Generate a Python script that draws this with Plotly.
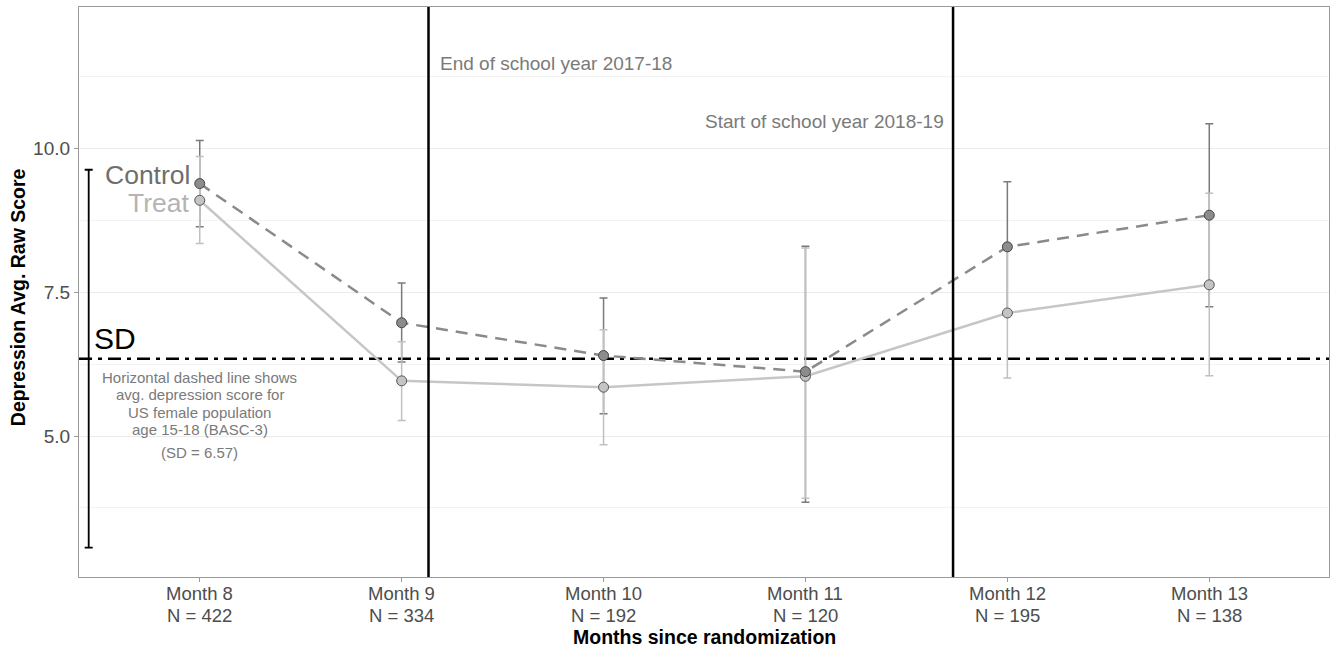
import plotly.graph_objects as go

# Survey waves and sample sizes
months = ["Month 8", "Month 9", "Month 10", "Month 11", "Month 12", "Month 13"]
n_sizes = [422, 334, 192, 120, 195, 138]
x_pos = [1, 2, 3, 4, 5, 6]

# Group means with lower / upper interval bounds
control_mean = [9.39, 6.97, 6.40, 6.12, 8.29, 8.84]
control_low = [8.64, 6.29, 5.39, 3.85, 7.16, 7.25]
control_high = [10.14, 7.66, 7.40, 8.30, 9.42, 10.43]

treat_mean = [9.10, 5.96, 5.85, 6.04, 7.14, 7.63]
treat_low = [8.35, 5.27, 4.85, 3.92, 6.01, 6.05]
treat_high = [9.86, 6.64, 6.85, 8.27, 8.27, 9.22]

# Reference norm and its standard deviation
norm_mean = 6.345
norm_sd = 6.57
sd_bar_x = 0.45
norm_note = ["Horizontal dashed line shows", "avg. depression score for",
             "US female population", "age 15-18 (BASC-3)"]
norm_note_y = [6.02, 5.72, 5.41, 5.11]

# School-year boundaries on the month axis
school_end_x = 2.133
school_start_x = 4.731

FONT = "Liberation Sans, Arial, Helvetica, sans-serif"
CONTROL_LINE = "#8a8a8a"
CONTROL_FILL = "#8c8c8c"
TREAT_LINE = "#c6c6c6"
TREAT_FILL = "#c4c4c4"
NOTE_GREY = "#7a7a7a"
TICK_GREY = "#4d4d4d"

fig = go.Figure()


def err_plus(mean, high):
    return [h - m for m, h in zip(mean, high)]


def err_minus(mean, low):
    return [m - l for m, l in zip(mean, low)]


def error_layer(mean, low, high, color):
    return go.Scatter(
        x=x_pos, y=mean, mode="markers",
        marker=dict(size=1, color="rgba(0,0,0,0)"),
        error_y=dict(type="data", symmetric=False,
                     array=err_plus(mean, high), arrayminus=err_minus(mean, low),
                     color=color, thickness=1.5, width=4),
        showlegend=False, hoverinfo="skip",
    )


# Interval bars first (control underneath treatment), then lines and points
fig.add_trace(error_layer(control_mean, control_low, control_high, "#7a7a7a"))
fig.add_trace(error_layer(treat_mean, treat_low, treat_high, "#c0c0c0"))

fig.add_trace(go.Scatter(
    x=x_pos, y=treat_mean, mode="lines+markers", name="Treat",
    line=dict(color=TREAT_LINE, width=2.5),
    marker=dict(size=10, color=TREAT_FILL, line=dict(color="#555555", width=1)),
))
fig.add_trace(go.Scatter(
    x=x_pos, y=control_mean, mode="lines+markers", name="Control",
    line=dict(color=CONTROL_LINE, width=2.5, dash="12px,8px"),
    marker=dict(size=10, color=CONTROL_FILL, line=dict(color="#444444", width=1)),
))

# SD bar centred on the population mean
fig.add_trace(go.Scatter(
    x=[sd_bar_x], y=[norm_mean], mode="markers",
    marker=dict(size=1, color="rgba(0,0,0,0)"),
    error_y=dict(type="constant", value=norm_sd / 2, color="black",
                 thickness=1.8, width=4),
    showlegend=False, hoverinfo="skip",
))

# Population mean (dot-dash) and school-year boundaries
fig.add_hline(y=norm_mean, line=dict(color="black", width=2.5,
                                     dash="13px,6px,4px,6px"), layer="below")
for xv in (school_end_x, school_start_x):
    fig.add_vline(x=xv, line=dict(color="black", width=2.5), layer="above")

# Direct group labels
fig.add_annotation(x=0.96, y=9.54, text="Control", showarrow=False,
                   xanchor="right", yanchor="middle",
                   font=dict(family=FONT, size=26.5, color="#6e6e6e"))
fig.add_annotation(x=0.96, y=9.045, text="Treat", showarrow=False,
                   xanchor="right", yanchor="middle",
                   font=dict(family=FONT, size=26.5, color="#b4b4b4"))

fig.add_annotation(x=0.468, y=6.70, text="SD", showarrow=False,
                   xanchor="left", yanchor="middle",
                   font=dict(family=FONT, size=30, color="black"))
for line_text, yv in zip(norm_note, norm_note_y):
    fig.add_annotation(x=1.0, y=yv, text=line_text, showarrow=False,
                       xanchor="center", yanchor="middle",
                       font=dict(family=FONT, size=15, color=NOTE_GREY))
fig.add_annotation(x=1.0, y=4.72, text=f"(SD = {norm_sd:.2f})", showarrow=False,
                   xanchor="center", yanchor="middle",
                   font=dict(family=FONT, size=15, color=NOTE_GREY))

fig.add_annotation(x=2.179, y=11.48, text="End of school year 2017-18",
                   showarrow=False, xanchor="left", yanchor="middle",
                   font=dict(family=FONT, size=19, color=NOTE_GREY))
fig.add_annotation(x=4.695, y=10.47, text="Start of school year 2018-19",
                   showarrow=False, xanchor="right", yanchor="middle",
                   font=dict(family=FONT, size=19, color=NOTE_GREY))

# Two-line month labels under each tick
for xv, m, n in zip(x_pos, months, n_sizes):
    fig.add_annotation(x=xv, xref="x", yref="paper", y=-0.0281, text=m,
                       showarrow=False, xanchor="center", yanchor="middle",
                       font=dict(family=FONT, size=18.5, color=TICK_GREY))
    fig.add_annotation(x=xv, xref="x", yref="paper", y=-0.0667, text=f"N = {n}",
                       showarrow=False, xanchor="center", yanchor="middle",
                       font=dict(family=FONT, size=18.5, color=TICK_GREY))

# Axis titles
fig.add_annotation(xref="paper", yref="paper", x=0.5, y=-0.106,
                   text="<b>Months since randomization</b>", showarrow=False,
                   xanchor="center", yanchor="middle",
                   font=dict(family=FONT, size=19.5, color="black"))
fig.add_annotation(xref="paper", yref="paper", x=-0.0488, y=0.491,
                   text="<b>Depression Avg. Raw Score</b>", showarrow=False,
                   textangle=-90, xanchor="center", yanchor="middle",
                   font=dict(family=FONT, size=19.5, color="black"))

fig.update_layout(
    width=1330, height=650,
    margin=dict(l=79, r=1, t=7, b=73),
    paper_bgcolor="white", plot_bgcolor="white",
    showlegend=False,
    font=dict(family=FONT, color=TICK_GREY),
)

fig.update_xaxes(
    range=[0.402, 6.593], tickvals=x_pos, showticklabels=False,
    showgrid=False, zeroline=False,
    showline=True, linecolor="#9a9a9a", linewidth=1.2, mirror=True,
    ticks="outside", ticklen=4, tickcolor="#9a9a9a",
)

fig.update_yaxes(
    range=[2.55, 12.46], tickvals=[5.0, 7.5, 10.0],
    ticktext=["5.0", "7.5", "10.0"],
    showgrid=True, gridcolor="#ebebeb", gridwidth=1.2, zeroline=False,
    minor=dict(tickvals=[3.75, 6.25, 8.75, 11.25], showgrid=True,
               gridcolor="#f3f3f3", gridwidth=1),
    showline=True, linecolor="#9a9a9a", linewidth=1.2, mirror=True,
    ticks="outside", ticklen=4, tickcolor="#9a9a9a",
    tickfont=dict(family=FONT, size=19, color=TICK_GREY),
)

fig.write_html("out.html")
